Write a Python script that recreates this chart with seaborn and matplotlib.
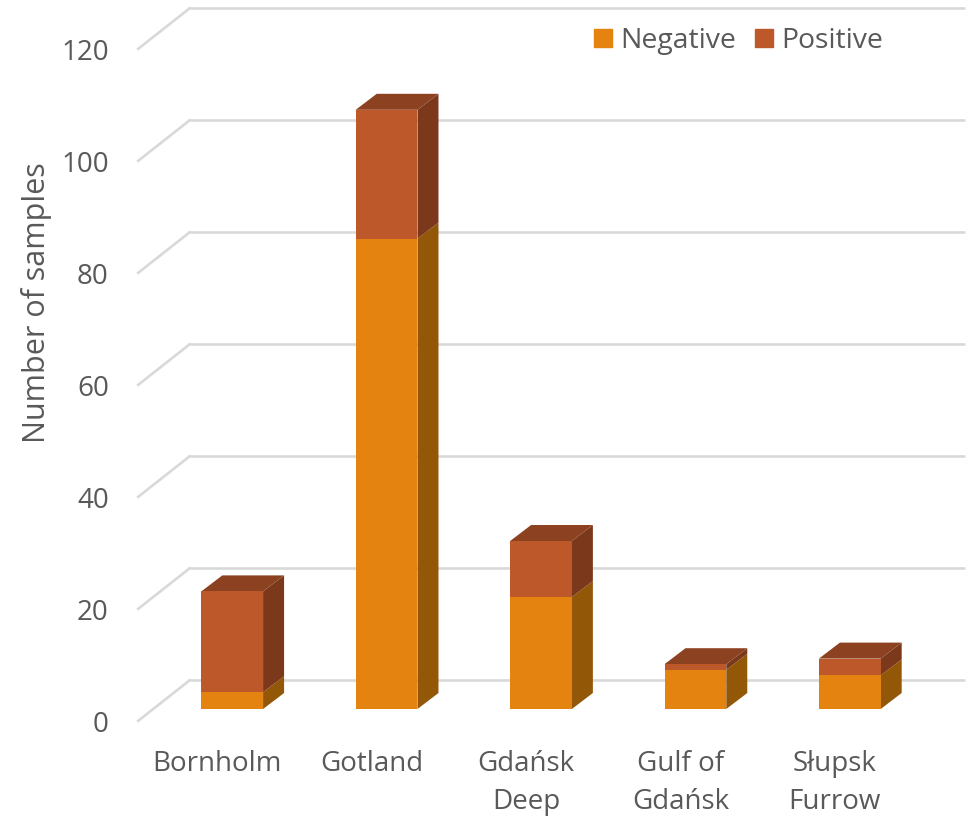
import matplotlib
matplotlib.use("Agg")
import pandas as pd
import seaborn as sns
from matplotlib import pyplot as plt
from matplotlib.patches import Patch
from matplotlib.transforms import Affine2D

sites = ["Bornholm", "Gotland", "Gdańsk\nDeep", "Gulf of\nGdańsk", "Słupsk\nFurrow"]
negative = [3, 84, 20, 7, 6]
positive = [18, 23, 10, 1, 3]
yticks = [0, 20, 40, 60, 80, 100, 120]

NEG = "#E58311"
POS = "#BC5829"
NEG_SIDE = "#935708"
POS_SIDE = "#7B381B"
POS_TOP = "#8C4220"
GREY = "#595959"
GRID = "#D9D9D9"

sns.set_theme(style="white")
plt.rcParams["font.family"] = ["Open Sans", "DejaVu Sans"]

W, H = 974, 818
AX_W, AX_H = 772, 672
fig = plt.figure(figsize=(W / 100, H / 100), dpi=100)
ax = fig.add_axes([138 / W, 97 / H, AX_W / W, AX_H / H])

df = pd.DataFrame({"site": sites, "neg": negative, "pos": positive})

# 3d look: everything is the same data scale, shifted by some pixels
bar_tr = ax.transData + Affine2D().translate(17, 12)
wall_tr = ax.transData + Affine2D().translate(52, 41)

sns.barplot(data=df, x="site", y="neg", color=NEG, saturation=1, width=0.4, ax=ax,
            linewidth=0, zorder=3)
sns.barplot(data=df, x="site", y="pos", bottom=df["neg"], color=POS, saturation=1,
            width=0.4, ax=ax, linewidth=0, zorder=3)

ax.set_xlim(-0.5, 4.5)
ax.set_ylim(0, 120)

for bar in ax.patches:
    bar.set_transform(bar_tr)
    bar.set_clip_on(False)

# depth of the bars, pixels to data units
px_x = 5 / AX_W
px_y = 120 / AX_H
dx = 21 * px_x
dy = 16 * px_y
half = 0.2
for i, (n, p) in enumerate(zip(negative, positive)):
    r = i + half
    l = i - half
    t = n + p
    ax.fill([r, r + dx, r + dx, r], [0, dy, n + dy, n], color=NEG_SIDE, lw=0,
            transform=bar_tr, clip_on=False, zorder=2)
    ax.fill([r, r + dx, r + dx, r], [n, n + dy, t + dy, t], color=POS_SIDE, lw=0,
            transform=bar_tr, clip_on=False, zorder=2)
    ax.fill([l, l + dx, r + dx, r], [t, t + dy, t + dy, t], color=POS_TOP, lw=0,
            transform=bar_tr, clip_on=False, zorder=2)

# back wall grid and the diagonals on the left
wx = 52 * px_x
wy = 41 * px_y
for v in yticks:
    ax.plot([-0.5, 4.5 + 3 * px_x], [v, v], color=GRID, lw=1.9, transform=wall_tr,
            clip_on=False, zorder=1, solid_capstyle="butt")
    ax.plot([-0.5, -0.5 + wx], [v, v + wy], color=GRID, lw=1.9, clip_on=False, zorder=1)

sns.despine(ax=ax, left=True, bottom=True)
ax.set_yticks(yticks)
# labels sit a little right of the front plane slots
ax.set_xticks([i + 2 * px_x for i in range(len(sites))], sites)
ax.tick_params(axis="both", length=0, labelsize=20, labelcolor=GREY)
ax.tick_params(axis="y", pad=21)
ax.tick_params(axis="x", pad=21)
for lab in ax.get_xticklabels():
    lab.set_linespacing(1.48)
ax.set_xlabel("")
ax.set_ylabel("Number of samples", fontsize=22, color=GREY)
ax.yaxis.set_label_coords((52 - 138) / AX_W, (721 - 303) / AX_H)

handles = [Patch(color=NEG, label="Negative"), Patch(color=POS, label="Positive")]
ax.legend(handles=handles, ncol=2, frameon=False, loc="center right", fontsize=20.4,
          labelcolor=GREY, handlelength=0.62, handleheight=0.62, handletextpad=0.3,
          columnspacing=0.66, borderpad=0, borderaxespad=0,
          bbox_to_anchor=(883 / W, 1 - 41 / H), bbox_transform=fig.transFigure)

fig.savefig("out.png", dpi=100)
